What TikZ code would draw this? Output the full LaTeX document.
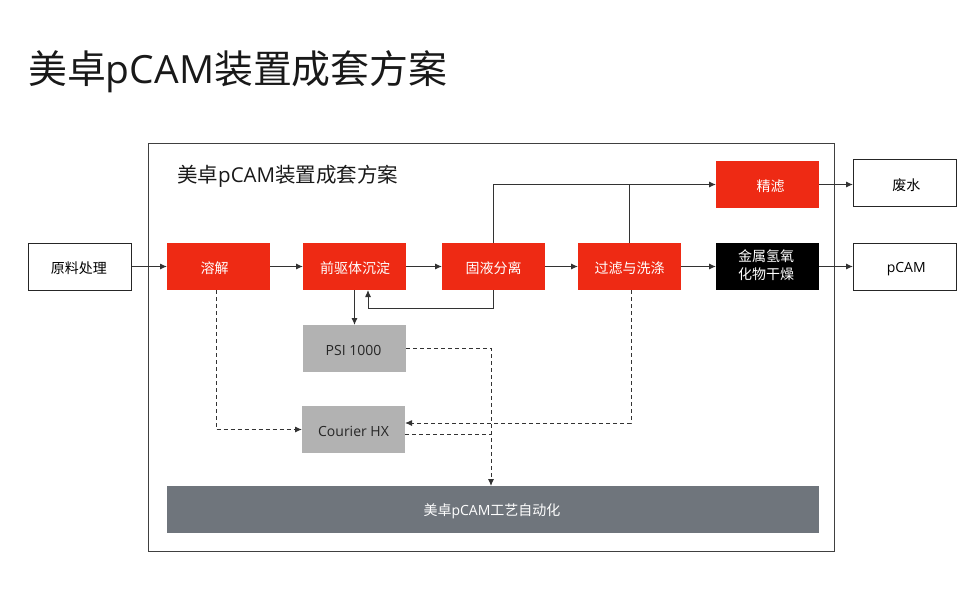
\documentclass[tikz,border=0pt]{standalone}
\usepackage{fontspec}
\setmainfont{Open Sans}
\newfontfamily\cjk{Noto Sans CJK SC}
\usetikzlibrary{arrows.meta,calc}
\definecolor{mred}{HTML}{EE2A14}
\definecolor{mgrey}{HTML}{B2B2B2}
\definecolor{mslate}{HTML}{6F757C}
\definecolor{mline}{HTML}{333333}
\tikzset{
  x=1pt,y=-1pt,
  boxbase/.style={anchor=north west,inner sep=0pt,outer sep=0pt,align=center,font=\fontsize{14}{20}\selectfont},
  redbox/.style={boxbase,fill=mred,text=white},
  blackbox/.style={boxbase,fill=black,text=white},
  greybox/.style={boxbase,fill=mgrey,text=black!85},
  slatebox/.style={boxbase,fill=mslate,text=white},
  whitebox/.style={boxbase,draw=black!85,line width=1pt,fill=white,text=black},
  flow/.style={draw=mline,line width=0.95pt,-{Latex[length=7pt,width=6pt]}},
  plainflow/.style={draw=mline,line width=0.95pt},
  dashflow/.style={draw=mline,line width=0.95pt,dash pattern=on 4pt off 3pt,-{Latex[length=7pt,width=6pt]}},
  dashplain/.style={draw=mline,line width=0.95pt,dash pattern=on 4pt off 3pt},
}
\newsavebox{\labelbox}
% shift a label inside its box without changing the size the node sees
\newcommand{\moved}[3]{\sbox{\labelbox}{#3}\raisebox{-#2pt}[\ht\labelbox][\dp\labelbox]{\hbox to \wd\labelbox{\kern #1pt\usebox{\labelbox}\hss}}}
\newcommand{\bx}[8]{\node[#1,minimum width=#4pt,minimum height=#5pt] (#2) at (#3) {\moved{#6}{#7}{#8}};}
\begin{document}
\begin{tikzpicture}
\useasboundingbox (0,0) rectangle (980,600);
\node[anchor=west,inner sep=0pt,font=\fontsize{38.9}{44}\selectfont,text=black!90] (maintitle) at (28,72) {{\cjk 美卓}pCAM{\cjk 装置成套方案}};
\node[draw=black!75,line width=1pt,anchor=north west,minimum width=686pt,minimum height=408pt,inner sep=0pt] (frame) at (148.2,143) {};
\node[anchor=west,inner sep=0pt,font=\fontsize{20.5}{24}\selectfont,text=black!90] (subtitle) at (177,176.5) {{\cjk 美卓}pCAM{\cjk 装置成套方案}};

\bx{whitebox}{raw}{28,243.5}{103.5}{47}{-1}{1.5}{\cjk 原料处理}
\bx{redbox}{dissolve}{167,243}{103}{47}{-4}{2}{\cjk 溶解}
\bx{redbox}{precursor}{303,243}{103}{47}{0.5}{2}{\cjk 前驱体沉淀}
\bx{redbox}{separate}{442,243}{103}{47}{0}{2}{\cjk 固液分离}
\bx{redbox}{wash}{578,243}{103}{47}{0}{2}{\cjk 过滤与洗涤}
\bx{blackbox}{dry}{716,243}{103}{47}{-1.5}{0.5}{\def\arraystretch{0.88}\begin{tabular}{@{}c@{}}\cjk 金属氢氧\\\cjk 化物干燥\end{tabular}}
\bx{redbox}{fine}{716,161}{103}{47}{3}{2}{\cjk 精滤}
\bx{whitebox}{waste}{853,159}{103.5}{47}{1.5}{2.5}{\cjk 废水}
\bx{whitebox}{pcam}{853,243.5}{103.5}{47}{1.5}{2}{pCAM}
\bx{greybox}{psi}{303,325}{103}{47}{-1}{1.5}{PSI 1000}
\bx{greybox}{courier}{302,406}{103}{47}{0}{1.5}{Courier HX}
\bx{slatebox}{auto}{167,486}{652}{47}{-1}{2}{{\cjk 美卓}pCAM{\cjk 工艺自动化}}

\draw[flow] (raw.east |- dissolve.west) -- (dissolve.west);
\draw[flow] (dissolve.east) -- (precursor.west);
\draw[flow] (precursor.east) -- (separate.west);
\draw[flow] (separate.east) -- (wash.west);
\draw[flow] (wash.east) -- (dry.west);
\draw[flow] (dry.east) -- (pcam.west |- dry.east);
\draw[flow] (fine.east) -- (waste.west |- fine.east);
\draw[flow] (precursor.south) -- (psi.north);

\draw[flow] (separate.north) |- (fine.west);
\draw[plainflow] (wash.north) -- (wash.north |- fine.west);
\coordinate (backin) at (368,290);
\draw[flow] (separate.south) -- ++(0,18) -| (backin);

\coordinate (drop) at (491,348);
\draw[dashflow] (psi.east |- drop) -- (drop) -- (drop |- auto.north);
\coordinate (cjoin) at (491,434);
\draw[dashplain] (courier.east |- cjoin) -- (cjoin);
\coordinate (washout) at (631,290);
\coordinate (washturn) at (631,423);
\draw[dashflow] (washout) -- (washturn) -- (courier.east |- washturn);
\coordinate (disout) at (216,290);
\coordinate (disturn) at (216,429.5);
\draw[dashflow] (disout) -- (disturn) -- (courier.west |- disturn);
\end{tikzpicture}
\end{document}
